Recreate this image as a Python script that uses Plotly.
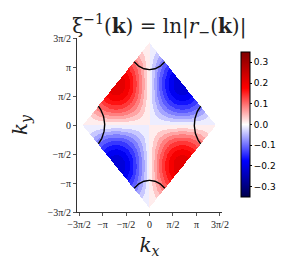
import numpy as np
import plotly.graph_objects as go

PI = np.pi
# ---- data / parameters ----
zone_half_diag = np.sqrt(2) * PI          # diamond vertices at (±√2π,0),(0,±√2π)
amplitude = 0.22                          # peak |ξ^-1| near edge midpoints
level_step = 0.025                        # contour band width
cmin, cmax = -0.35, 0.35                  # colour range
arc_radius = 0.46 * PI                    # circles centred at the zone vertices
cbar_ticks = [-0.3, -0.2, -0.1, 0.0, 0.1, 0.2, 0.3]
cbar_labels = ["−0.3", "−0.2", "−0.1", "0.0", "0.1", "0.2", "0.3"]
axis_tickvals = [-1.5 * PI, -PI, -0.5 * PI, 0, 0.5 * PI, PI, 1.5 * PI]
axis_ticktext = ["−3π/2", "−π", "−π/2", "0", "π/2", "π", "3π/2"]

# ---- field on the rotated zone ----
n = 321
k = np.linspace(-zone_half_diag, zone_half_diag, n)
KX, KY = np.meshgrid(k, k)
Z = -amplitude * np.sin(KX / np.sqrt(2)) * np.sin(KY / np.sqrt(2))
Zq = (np.floor(Z / level_step) + 0.5) * level_step
Zq = np.where(np.abs(KX) + np.abs(KY) <= zone_half_diag + 1e-9, Zq, np.nan)

seismic = [[0.0, "rgb(0,0,77)"], [0.25, "rgb(0,0,255)"], [0.5, "rgb(255,255,255)"],
           [0.75, "rgb(255,0,0)"], [1.0, "rgb(128,0,0)"]]

fig = go.Figure()
fig.add_trace(go.Heatmap(
    x=k, y=k, z=Zq, zmin=cmin, zmax=cmax, colorscale=seismic, zsmooth=False,
    hoverongaps=False,
    colorbar=dict(
        x=1.061, xanchor="left", y=0.503, yanchor="middle",
        thickness=9, thicknessmode="pixels", len=165, lenmode="pixels",
        outlinecolor="black", outlinewidth=1,
        tickvals=cbar_ticks, ticktext=cbar_labels, ticks="outside", ticklen=2,
        tickcolor="black", tickfont=dict(family="DejaVu Sans", size=9, color="black"),
    ),
))

# arcs centred on the four vertices
vertices = [(0, zone_half_diag, -135, -45), (0, -zone_half_diag, 45, 135),
            (-zone_half_diag, 0, -45, 45), (zone_half_diag, 0, 135, 225)]
for cx, cy, a0, a1 in vertices:
    t = np.radians(np.linspace(a0, a1, 60))
    fig.add_trace(go.Scatter(x=cx + arc_radius * np.cos(t), y=cy + arc_radius * np.sin(t),
                             mode="lines", line=dict(color="black", width=1.4),
                             showlegend=False, hoverinfo="skip"))

axis_common = dict(
    tickvals=axis_tickvals, ticktext=axis_ticktext, showgrid=False, zeroline=False,
    showline=True, linecolor="#333", linewidth=1, ticks="outside", ticklen=3,
    tickcolor="#555", tickfont=dict(family="Liberation Serif", size=10, color="#222"),
    mirror=False, tickangle=0,
)
fig.update_layout(
    width=291, height=264,
    margin=dict(l=63, r=49, t=30, b=60),
    paper_bgcolor="white", plot_bgcolor="white",
    title=dict(text="ξ<sup>−1</sup>(<b>k</b>) = ln|<i>r</i><sub>−</sub>(<b>k</b>)|",
               x=0.52, xanchor="center", y=0.96, yanchor="top",
               font=dict(family="DejaVu Serif", size=20, color="#222")),
    xaxis=dict(range=[-1.543 * PI, 1.543 * PI],
               title=dict(text="<i>k</i><sub><i>x</i></sub>", standoff=8,
                          font=dict(family="DejaVu Serif", size=20, color="#222")),
               **axis_common),
    yaxis=dict(range=[-1.5 * PI, 1.5 * PI],
               title=dict(text="<i>k</i><sub><i>y</i></sub>", standoff=14,
                          font=dict(family="DejaVu Serif", size=20, color="#222")),
               **axis_common),
    showlegend=False,
)
fig.write_html("out.html")
